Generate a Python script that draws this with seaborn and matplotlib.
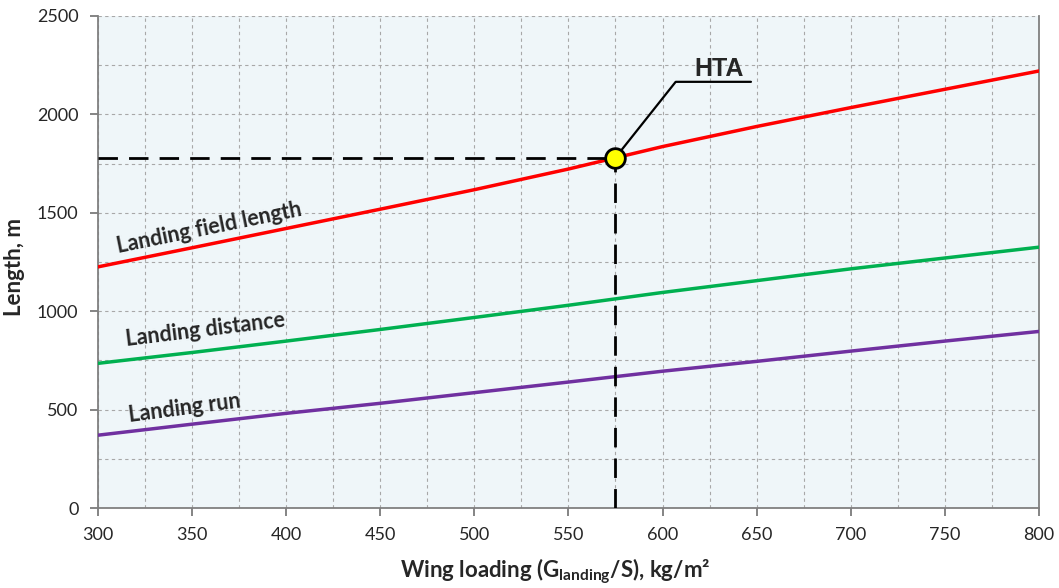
import matplotlib
matplotlib.use("Agg")
import matplotlib.pyplot as plt
import seaborn as sns
import pandas as pd
import numpy as np
from matplotlib.ticker import MultipleLocator

wing_loading = [300, 350, 400, 450, 500, 550, 600, 650, 700, 750, 800]
field_length = [1225, 1322, 1420, 1518, 1617, 1722, 1836, 1938, 2034, 2127, 2220]
landing_distance = [735, 790, 848, 907, 968, 1030, 1095, 1155, 1215, 1270, 1325]
landing_run = [370, 426, 481, 532, 586, 640, 695, 745, 797, 848, 897]
series_names = ["Landing field length", "Landing distance", "Landing run"]
series_colors = ["#FF0000", "#00B050", "#7030A0"]
hta_x = [575]
hta_y = [1780]

sns.set_theme(style="ticks")
plt.rcParams["font.family"] = ["Lato", "DejaVu Sans"]
plt.rcParams["mathtext.default"] = "regular"

df = pd.DataFrame({
    "x": wing_loading * 3,
    "y": field_length + landing_distance + landing_run,
    "series": [series_names[0]] * 11 + [series_names[1]] * 11 + [series_names[2]] * 11,
})

fig, ax = plt.subplots(figsize=(10.59, 5.88), dpi=100)
fig.subplots_adjust(left=0.0925, right=0.981, top=0.973, bottom=0.136)
ax.set_facecolor("#EFF6F9")

sns.lineplot(data=df, x="x", y="y", hue="series", palette=series_colors,
             hue_order=series_names, linewidth=2.5, ax=ax, legend=False, zorder=3)

# guide lines
ax.plot([300, hta_x[0]], [hta_y[0], hta_y[0]], color="black", lw=2, ls=(0, (7, 4)), zorder=4)
ax.plot([hta_x[0], hta_x[0]], [0, hta_y[0]], color="black", lw=2, ls=(0, (7, 4)), zorder=4)

# leader
ax.plot([hta_x[0], 607, 647], [hta_y[0], 2165, 2165], color="black", lw=1.6, zorder=4)
ax.text(630, 2195, "HTA", fontsize=18, fontweight="bold", family=["Liberation Sans"],
        ha="center", va="baseline", zorder=5)

sns.scatterplot(x=hta_x, y=hta_y, s=200, color="#FFFF00", edgecolor="black",
                linewidth=2, ax=ax, zorder=6)

ax.set_xlim(300, 800)
ax.set_ylim(0, 2500)
ax.xaxis.set_major_locator(MultipleLocator(50))
ax.xaxis.set_minor_locator(MultipleLocator(25))
ax.yaxis.set_major_locator(MultipleLocator(500))
ax.yaxis.set_minor_locator(MultipleLocator(250))
ax.grid(which="both", color="#A8A8A8", ls=(0, (3, 3)), lw=0.8)
ax.set_axisbelow(True)
ax.tick_params(which="minor", length=0)
ax.tick_params(which="major", length=6, width=1.2, color="#707070", labelsize=13, pad=8)

for s in ["left", "bottom", "right"]:
    ax.spines[s].set_color("#808080")
    ax.spines[s].set_linewidth(1.3)
ax.spines["top"].set_visible(False)

ax.set_xlabel("Wing loading (G$_{\\mathregular{landing}}$/S), kg/m²", fontsize=16,
              fontweight="bold")
ax.set_ylabel("Length, m", fontsize=16, fontweight="bold")
ax.xaxis.set_label_coords(0.486, -0.098)
ax.yaxis.set_label_coords(-0.078, 0.49)

ax.text(359, 1425, "Landing field length", rotation=11.5, fontsize=15.5, fontweight="bold",
        ha="center", va="center", rotation_mode="anchor", zorder=5)
ax.text(357, 905, "Landing distance", rotation=7, fontsize=15.5, fontweight="bold",
        ha="center", va="center", rotation_mode="anchor", zorder=5)
ax.text(346, 508, "Landing run", rotation=7.5, fontsize=15.5, fontweight="bold",
        ha="center", va="center", rotation_mode="anchor", zorder=5)

fig.savefig("out.png", dpi=100)
